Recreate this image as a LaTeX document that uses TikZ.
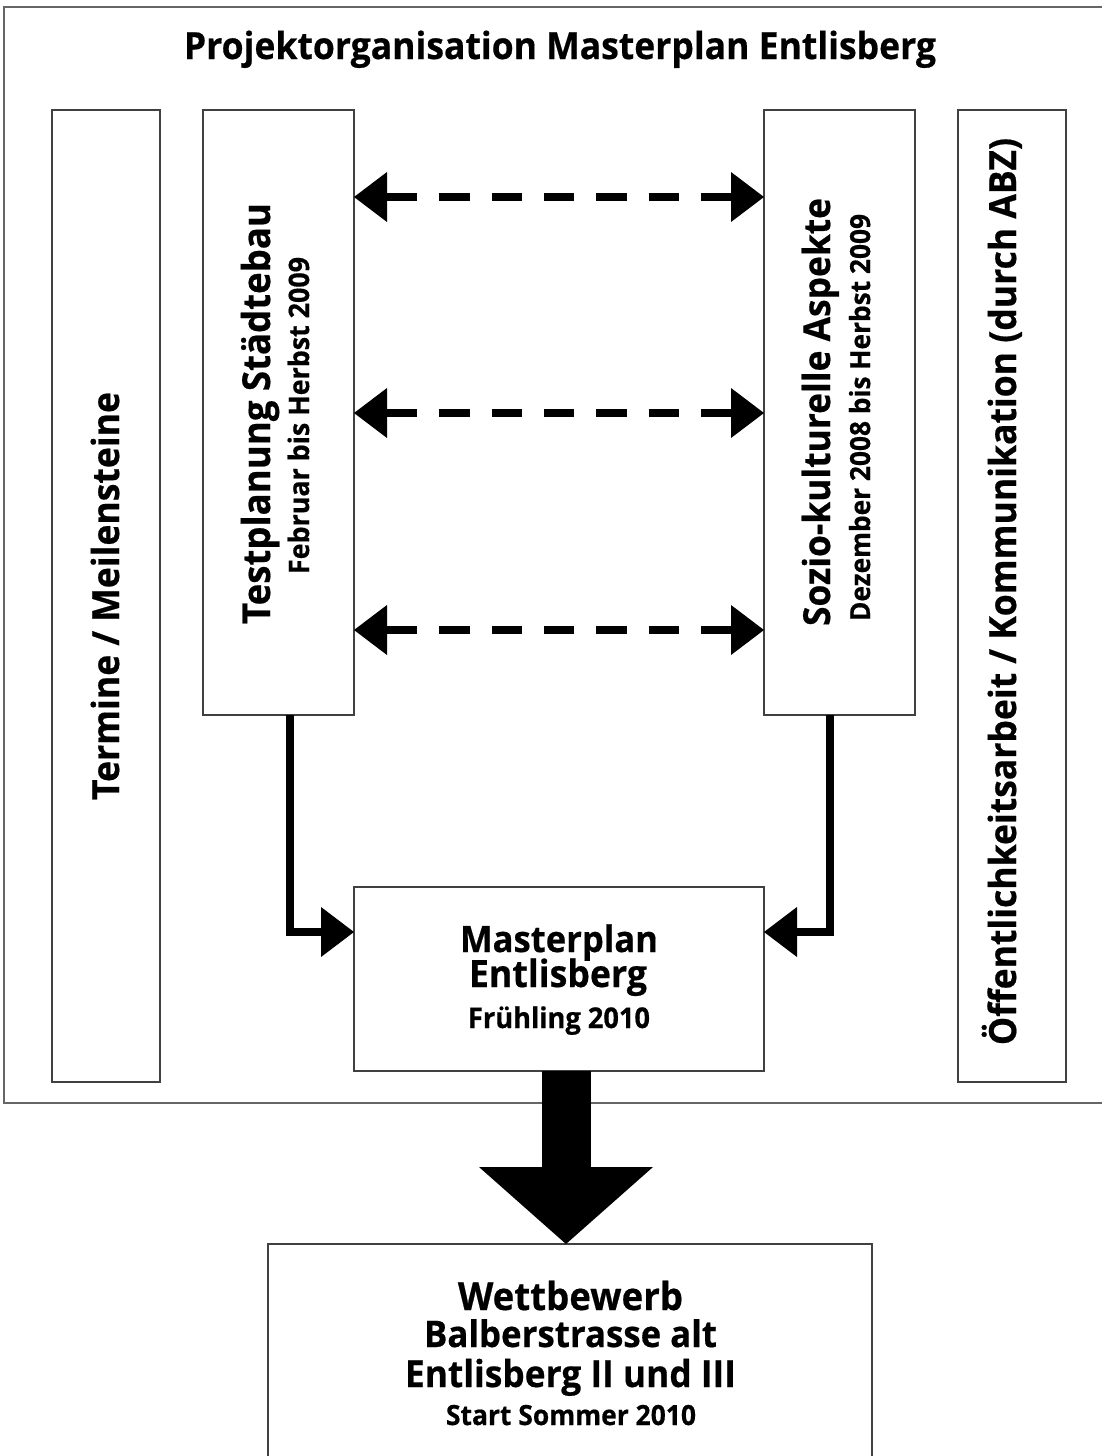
\documentclass[tikz,border=0pt]{standalone}
\usepackage{fontspec}
\setmainfont{Open Sans}[FakeStretch=0.95, BoldFeatures={FakeBold=0.5}]
\usetikzlibrary{arrows.meta,calc}
\newcommand\fitw[2]{\resizebox{#1pt}{!}{#2}}
\tikzset{
  boxstyle/.style={draw=black!75, line width=1.6pt, inner sep=0pt, outer sep=0pt},
  txt/.style={inner sep=0pt, outer sep=0pt, anchor=base, font=\bfseries},
  rtxt/.style={txt, rotate=90},
  headtip/.tip={Triangle[length=33pt,width=50pt,line width=0pt]},
  dasharrow/.style={line width=8pt, dash pattern=on 30.3pt off 22pt, {headtip}-{headtip}},
  elbowarrow/.style={line width=7.5pt, line join=miter, -{headtip}},
  bigarrow/.style={line width=49pt, -{Triangle[length=77pt,width=174pt,line width=0pt]}}
}
\begin{document}
\begin{tikzpicture}[x=1pt,y=-1pt]
\useasboundingbox (0,0) rectangle (1101,1456);
\fill[white] (0,0) rectangle (1101,1456);
% outer frame
\node[boxstyle, draw=black!60, minimum width=1116pt, minimum height=1096pt] (frame) at (562,555) {};
% boxes
\node[boxstyle, minimum width=108pt, minimum height=972pt] (termine) at (106,596) {};
\node[boxstyle, minimum width=151pt, minimum height=605pt] (test) at (278.5,412.5) {};
\node[boxstyle, minimum width=151pt, minimum height=605pt] (sozio) at (839.5,412.5) {};
\node[boxstyle, minimum width=108pt, minimum height=972pt] (oeff) at (1012,596) {};
\node[boxstyle, minimum width=410pt, minimum height=184pt] (master) at (559,979) {};
\node[boxstyle, minimum width=604pt, minimum height=226pt] (wett) at (570,1357) {};
% texts
\node[txt] (title) at (560,59) {\fitw{752}{Projektorganisation Masterplan Entlisberg}};
\node[rtxt] (ttermine) at (119,596) {\fitw{408}{Termine / Meilensteine}};
\node[rtxt] (ttest) at (270,413.5) {\fitw{421}{Testplanung Städtebau}};
\node[rtxt] (ttestd) at (309,415.5) {\fitw{317}{Februar bis Herbst 2009}};
\node[rtxt] (tsozio) at (830,412) {\fitw{428}{Sozio-kulturelle Aspekte}};
\node[rtxt] (tsoziod) at (870,417.5) {\fitw{407}{Dezember 2008 bis Herbst 2009}};
\node[rtxt] (toeff) at (1016,591.5) {\fitw{907}{Öffentlichkeitsarbeit / Kommunikation (durch ABZ)}};
\node[txt] (tm1) at (559,952) {\fitw{198}{Masterplan}};
\node[txt] (tm2) at (558,987) {\fitw{178}{Entlisberg}};
\node[txt] (tm3) at (559,1028) {\fitw{182}{Frühling 2010}};
\node[txt] (tw1) at (570.5,1310) {\fitw{225}{Wettbewerb}};
\node[txt] (tw2) at (570.5,1347) {\fitw{293}{Balberstrasse alt}};
\node[txt] (tw3) at (570.5,1387) {\fitw{331}{Entlisberg II und III}};
\node[txt] (tw4) at (571,1425) {\fitw{250}{Start Sommer 2010}};
% dashed double arrows
\draw[dasharrow] ($(test.north east)+(0,87)$) -- ($(sozio.north west)+(0,87)$);
\draw[dasharrow] ($(test.north east)+(0,303)$) -- ($(sozio.north west)+(0,303)$);
\draw[dasharrow] ($(test.north east)+(0,520)$) -- ($(sozio.north west)+(0,520)$);
% elbow arrows
\draw[elbowarrow] ($(test.south)+(11.5,0)$) |- ($(master.north west)+(0,45)$);
\draw[elbowarrow] ($(sozio.south)+(-9.5,0)$) |- ($(master.north east)+(0,45)$);
% big arrow
\coordinate (bx) at (566,0);
\draw[bigarrow] (master.south -| bx) -- (wett.north -| bx);
\end{tikzpicture}
\end{document}
